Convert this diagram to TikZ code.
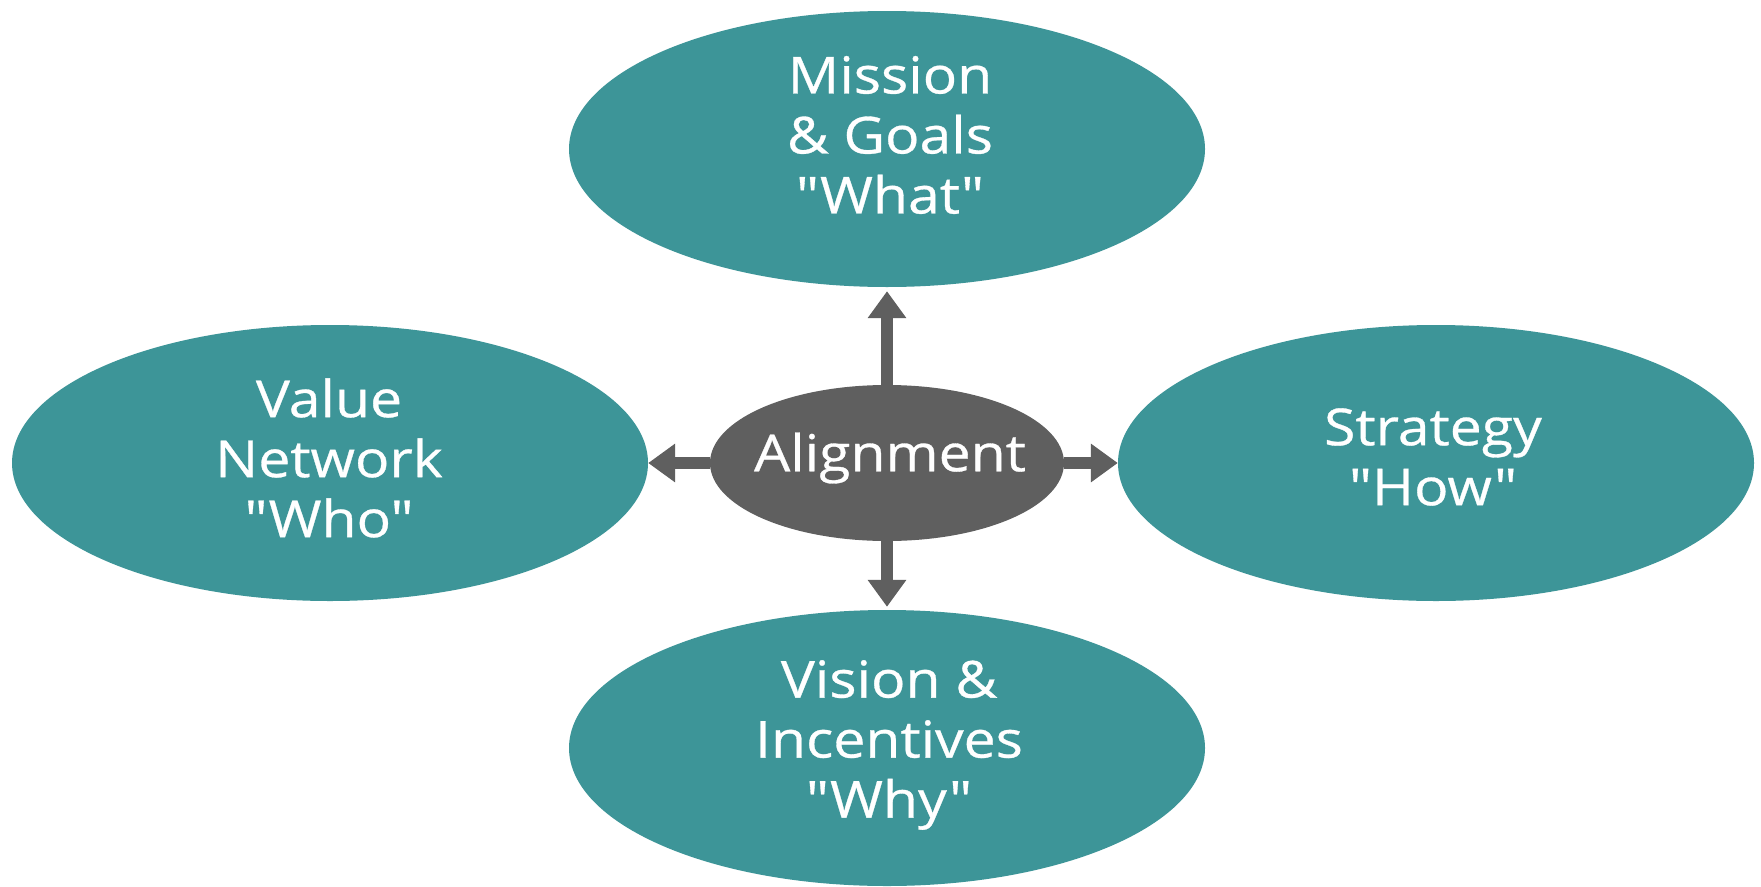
\documentclass[tikz,border=0pt]{standalone}
\usepackage{fontspec}
\setmainfont{Open Sans}[Ligatures=TeXOff, FakeStretch=1.12, FakeBold=0.6]
\usetikzlibrary{shapes.geometric,arrows.meta}
\definecolor{teal1}{HTML}{3D9598}
\definecolor{grey1}{HTML}{5F5F5F}
\tikzset{
  oval/.style={ellipse, fill=teal1, draw=none, minimum width=636pt, minimum height=276pt, inner sep=0pt},
  hub/.style={ellipse, fill=grey1, draw=none, minimum width=354pt, minimum height=156pt, inner sep=0pt},
  lbl/.style={text=white, align=center, font=\fontsize{51}{60}\selectfont, inner sep=0pt},
  hubl/.style={text=white, font=\fontsize{51}{60}\selectfont, inner sep=0pt},
  link/.style={draw=grey1, line width=12pt, -{Triangle[width=37pt,length=27pt]}},
}
\begin{document}
\begin{tikzpicture}[x=1pt,y=-1pt]
\useasboundingbox[fill=white] (0,0) rectangle (1761,886);
\node[oval] (top) at (887,149) {};
\node[oval] (left) at (330,463) {};
\node[oval] (right) at (1436,463) {};
\node[oval] (bottom) at (887,748) {};
\node[hub] (c) at (887,463) {};
\node[lbl] (topt) at (890,135) {Mission\\\& Goals\\"What"};
\node[lbl] (leftt) at (329,458) {Value\\Network\\"Who"};
\node[lbl] (rightt) at (1433,457) {Strategy\\"How"};
\node[lbl] (bottomt) at (889,745) {Vision \&\\Incentives\\"Why"};
\node[hubl] (ct) at (890,458) {Alignment};
\draw[link, shorten >=4pt] (c.north) -- (top.south);
\draw[link, shorten >=3pt] (c.south) -- (bottom.north);
\draw[link] (c.west) -- (left.east);
\draw[link] (c.east) -- (right.west);
\end{tikzpicture}
\end{document}
